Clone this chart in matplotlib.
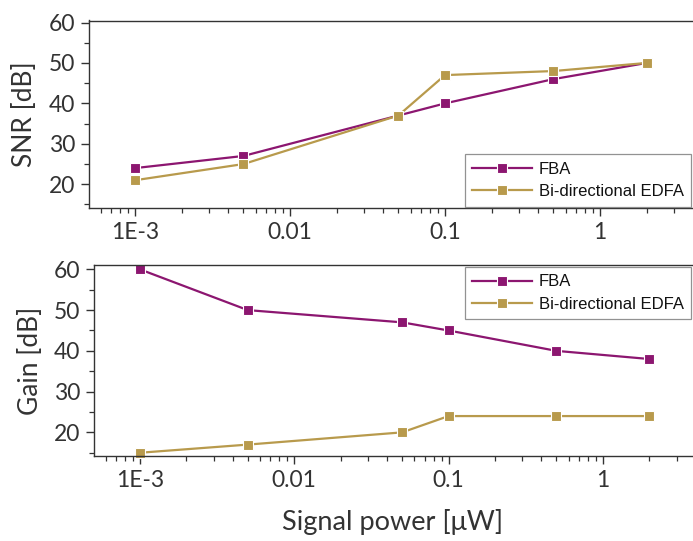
import matplotlib
matplotlib.use("Agg")
import matplotlib.pyplot as plt
from matplotlib.ticker import FixedLocator, LogLocator, MultipleLocator, NullFormatter

power = [0.001, 0.005, 0.05, 0.1, 0.5, 2]
snr_fba = [24, 27, 37, 40, 46, 50]
snr_edfa = [21, 25, 37, 47, 48, 50]
gain_fba = [60, 50, 47, 45, 40, 38]
gain_edfa = [15, 17, 20, 24, 24, 24]
xticks = [0.001, 0.01, 0.1, 1]
xticklabels = ["1E-3", "0.01", "0.1", "1"]
yticks = [20, 30, 40, 50, 60]

PURPLE = "#8c1670"
GOLD = "#b89a4c"
INK = "#333333"
W, H = 693, 541

fig = plt.figure(figsize=(W / 100, H / 100), dpi=100)


def px_axes(left, top, bottom, right=W):
    return fig.add_axes([left / W, 1 - bottom / H, (right - left) / W, (bottom - top) / H])


def style(ax, xlim, ylim, ylabel):
    ax.set_xscale("log")
    ax.set_xlim(*xlim)
    ax.set_ylim(*ylim)
    ax.xaxis.set_major_locator(FixedLocator(xticks))
    ax.set_xticklabels(xticklabels)
    ax.xaxis.set_minor_locator(LogLocator(base=10, subs=range(2, 10)))
    ax.xaxis.set_minor_formatter(NullFormatter())
    ax.yaxis.set_major_locator(FixedLocator(yticks))
    ax.yaxis.set_minor_locator(MultipleLocator(5))
    ax.spines["right"].set_visible(False)
    for s in ax.spines.values():
        s.set_color(INK)
        s.set_linewidth(1.0)
    ax.tick_params(which="major", direction="out", length=6, width=1.0, color=INK,
                   labelsize=16.5, labelcolor=INK, pad=4)
    ax.tick_params(which="minor", direction="out", length=3.5, width=0.9, color=INK)
    for lab in ax.get_xticklabels() + ax.get_yticklabels():
        lab.set_family("Lato")
    ax.set_ylabel(ylabel, fontsize=19, color=INK, family="Lato", labelpad=8)


def series(ax, x, y, color, label):
    ax.plot(x, y, color=color, lw=1.6, marker="s", ms=7.5, mfc=color,
            mec="white", mew=0.8, label=label, clip_on=False)


def legend(ax, loc):
    leg = ax.legend(loc=loc, frameon=True, fancybox=False,
                    handlelength=3.6, borderpad=0.45, labelspacing=0.45,
                    handletextpad=0.4, borderaxespad=0.1,
                    prop={"family": "Liberation Sans", "size": 12})
    leg.get_frame().set_edgecolor("#777777")
    leg.get_frame().set_linewidth(0.9)
    for t in leg.get_texts():
        t.set_color("#111111")


# top panel: SNR
ax1 = px_axes(89, 20.5, 208.3)
series(ax1, power, snr_fba, PURPLE, "FBA")
series(ax1, power, snr_edfa, GOLD, "Bi-directional EDFA")
style(ax1, (10 ** -3.297, 10 ** 0.6), (14.06, 60.5), "SNR [dB]")
legend(ax1, "lower right")

# bottom panel: Gain
ax2 = px_axes(94, 265.3, 456)
series(ax2, power, gain_fba, PURPLE, "FBA")
series(ax2, power, gain_edfa, GOLD, "Bi-directional EDFA")
style(ax2, (10 ** -3.298, 10 ** 0.584), (14.2, 61), "Gain [dB]")
legend(ax2, "upper right")

fig.text(393 / W, 1 - 522 / H, "Signal power [\u03bcW]", ha="center", va="center",
         fontsize=19.5, color=INK, family="Lato")

fig.savefig("out.png", dpi=100)
